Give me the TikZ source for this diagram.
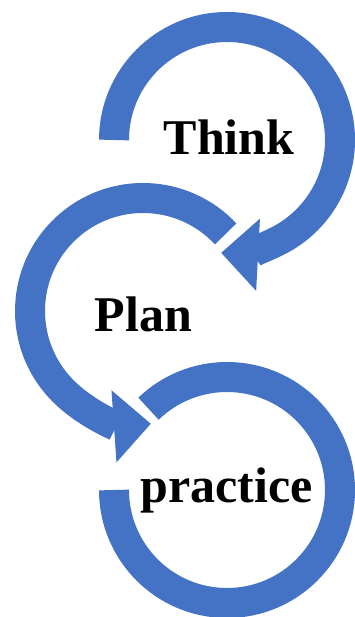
\documentclass[tikz,border=0pt]{standalone}
\usepackage{fontspec}
\setmainfont{Liberation Serif}
\usetikzlibrary{calc,arrows.meta,positioning}

\definecolor{ringblue}{RGB}{68,114,196}

\tikzset{
  ring/.style={draw=ringblue, line width=30pt},
  ringend/.style={-{Triangle[length=37pt,width=70pt]}},
  word/.style={font=\fontsize{50}{60}\selectfont\bfseries, inner sep=0pt, anchor=base}
}

\begin{document}
\begin{tikzpicture}[x=1pt,y=1pt]
        \useasboundingbox (0,0) rectangle (355,617);

        \coordinate (c1) at (227,477);
        \coordinate (c2) at (143,306);
        \coordinate (c3) at (227,127);

        % arcs
        \draw[ring,ringend] ($(c1)+(180:113)$) arc[start angle=180, end angle=-93, radius=113];
        \draw[ring,ringend] ($(c2)+(43:113)$) arc[start angle=43, end angle=274, radius=113];
        \draw[ring] ($(c3)+(180:113)$) arc[start angle=180, end angle=494, radius=113];

        % words
        \node[word] (think) at (229,462) {Think};
        \node[word] (plan) at (143.5,285) {Plan};
        \node[word] (practice) at (226.5,114) {practice};
\end{tikzpicture}
\end{document}
